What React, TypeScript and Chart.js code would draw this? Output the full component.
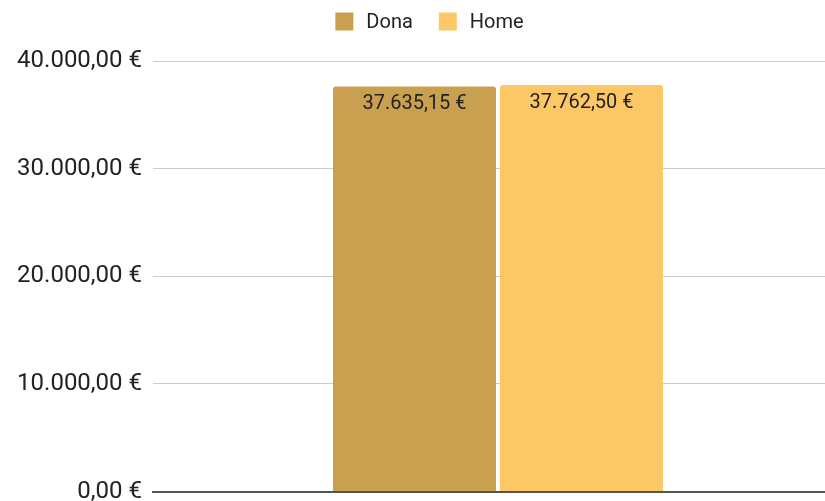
import React, { useEffect, useRef } from "react";
import Chart from "chart.js/auto";

const categories = [""];
const seriesNames = ["Dona", "Home"];
const donaValues = [37635.15];
const homeValues = [37762.5];
const yTicks = [0, 10000, 20000, 30000, 40000];
const colors = ["#C9A050", "#FCC865"];

function fmtEuro(v: number): string {
  const neg = v < 0;
  const abs = Math.abs(v);
  const fixed = abs.toFixed(2);
  const [intPart, dec] = fixed.split(".");
  const withDots = intPart.replace(/\B(?=(\d{3})+(?!\d))/g, ".");
  return (neg ? "-" : "") + withDots + "," + dec + " €";
}

const labelPlugin = {
  id: "barLabels",
  afterDatasetsDraw(chart: any) {
    const ctx = chart.ctx;
    ctx.save();
    ctx.font = "20px Roboto";
    ctx.fillStyle = "#222222";
    ctx.textAlign = "center";
    ctx.textBaseline = "middle";
    chart.data.datasets.forEach((ds: any, di: number) => {
      const meta = chart.getDatasetMeta(di);
      meta.data.forEach((bar: any, i: number) => {
        const v = ds.data[i];
        ctx.fillText(fmtEuro(v), bar.x, bar.y + 18);
      });
    });
    ctx.restore();
  },
};

const legendPlugin = {
  id: "customLegend",
  afterDraw(chart: any) {
    const ctx = chart.ctx;
    ctx.save();
    ctx.font = "20px Roboto";
    ctx.textBaseline = "middle";
    ctx.textAlign = "left";
    const box = 18;
    const gap = 13;
    const itemGap = 26;
    const items = chart.data.datasets.map((ds: any) => ({
      label: ds.label,
      color: ds.backgroundColor,
      w: ctx.measureText(ds.label).width,
    }));
    const total =
      items.reduce((s: number, it: any) => s + box + gap + it.w, 0) + itemGap * (items.length - 1);
    let x = 429.5 - total / 2;
    const cy = 21.5;
    items.forEach((it: any) => {
      ctx.fillStyle = it.color;
      ctx.fillRect(x, cy - box / 2, box, box);
      x += box + gap;
      ctx.fillStyle = "#222222";
      ctx.fillText(it.label, x, cy + 1);
      x += it.w + itemGap;
    });
    ctx.restore();
  },
};

export default function App() {
  const ref = useRef<HTMLCanvasElement>(null);
  useEffect(() => {
    if (!ref.current) return;
    const chart = new Chart(ref.current, {
      type: "bar",
      data: {
        labels: categories,
        datasets: [
          {
            label: seriesNames[0],
            data: donaValues,
            backgroundColor: colors[0],
            borderRadius: { topLeft: 3, topRight: 3, bottomLeft: 0, bottomRight: 0 },
            borderSkipped: false,
          },
          {
            label: seriesNames[1],
            data: homeValues,
            backgroundColor: colors[1],
            borderRadius: { topLeft: 3, topRight: 3, bottomLeft: 0, bottomRight: 0 },
            borderSkipped: false,
          },
        ],
      },
      options: {
        animation: false,
        responsive: false,
        maintainAspectRatio: false,
        datasets: { bar: { categoryPercentage: 0.484, barPercentage: 0.976 } },
        layout: { padding: { top: 61, bottom: 9.5, left: 0, right: 0 } },
        plugins: {
          legend: { display: false },
          tooltip: { enabled: false },
        },
        scales: {
          x: {
            z: 1,
            ticks: { display: false },
            grid: { display: false, drawTicks: false },
            border: { display: true, color: "#555555", width: 2 },
          },
          y: {
            min: 0,
            max: 40000,
            afterBuildTicks(scale: any) {
              scale.ticks = yTicks.map((v) => ({ value: v }));
            },
            afterFit(scale: any) {
              scale.width = 153;
              scale.paddingTop = 0;
              scale.paddingBottom = 0;
            },
            ticks: {
              padding: 11,
              font: { family: "Roboto", size: 24 },
              color: "#222222",
              callback: (v: any) => fmtEuro(Number(v)),
            },
            grid: { color: "#CCCCCC", drawTicks: false },
            border: { display: false },
          },
        },
      },
      plugins: [labelPlugin, legendPlugin],
    });
    return () => chart.destroy();
  }, []);
  return (
    <div style={{ position: "fixed", left: 0, top: 0, width: 825, height: 501, overflow: "hidden", background: "#fff" }}>
      <canvas ref={ref} width={843} height={501} style={{ display: "block", width: 843, height: 501 }} />
    </div>
  );
}
